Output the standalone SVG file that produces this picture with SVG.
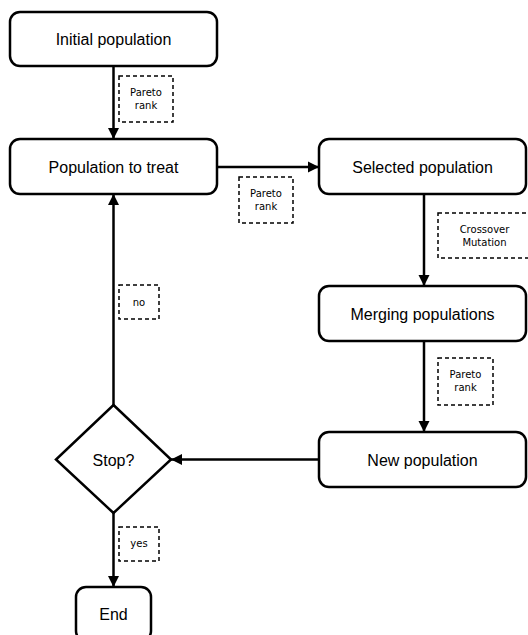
<svg xmlns="http://www.w3.org/2000/svg" width="528" height="635" viewBox="0 0 528 635">
<style>
.box{fill:#fff;stroke:#000;stroke-width:2.5}
.lbl{font-family:"Liberation Sans",Arial,sans-serif;font-size:16px;fill:#000;text-anchor:middle}
.note{fill:none;stroke:#000;stroke-width:1.5;stroke-dasharray:4 3}
.ntxt{font-family:"DejaVu Sans",sans-serif;font-size:10px;fill:#000;text-anchor:middle}
.edge{fill:none;stroke:#000;stroke-width:2.5}
</style>
<defs>
<marker id="arr" markerUnits="userSpaceOnUse" markerWidth="12" markerHeight="12" refX="11" refY="6" orient="auto">
<path d="M0,0.5 L11,6 L0,11.5 z" fill="#000"/>
</marker>
</defs>
<rect width="528" height="635" fill="#fff"/>
<g id="connectors">
<line class="edge" x1="113.5" y1="66" x2="113.5" y2="139" marker-end="url(#arr)"/>
<line class="edge" x1="217" y1="167" x2="319" y2="167" marker-end="url(#arr)"/>
<line class="edge" x1="424" y1="194" x2="424" y2="286" marker-end="url(#arr)"/>
<line class="edge" x1="424" y1="341" x2="424" y2="432" marker-end="url(#arr)"/>
<line class="edge" x1="319" y1="459.5" x2="171" y2="459.5" marker-end="url(#arr)"/>
<line class="edge" x1="113.5" y1="405" x2="113.5" y2="194" marker-end="url(#arr)"/>
<line class="edge" x1="113.5" y1="513" x2="113.5" y2="587" marker-end="url(#arr)"/>
</g>
<g id="note1"><rect class="note" x="119" y="76" width="54" height="46"/><text class="ntxt" x="146" y="96">Pareto</text><text class="ntxt" x="146" y="109">rank</text></g>
<g id="note2"><rect class="note" x="239" y="177" width="54" height="46"/><text class="ntxt" x="266" y="197">Pareto</text><text class="ntxt" x="266" y="210">rank</text></g>
<g id="note3"><rect class="note" x="438" y="213" width="93" height="45"/><text class="ntxt" x="484.5" y="233">Crossover</text><text class="ntxt" x="484.5" y="246">Mutation</text></g>
<g id="note4"><rect class="note" x="438" y="358" width="55" height="47"/><text class="ntxt" x="465.5" y="378">Pareto</text><text class="ntxt" x="465.5" y="391">rank</text></g>
<g id="note5"><rect class="note" x="119" y="285" width="40" height="34"/><text class="ntxt" x="139" y="305.5">no</text></g>
<g id="note6"><rect class="note" x="119" y="527" width="40" height="34"/><text class="ntxt" x="139" y="547">yes</text></g>
<g id="initial"><rect class="box" x="10" y="12" width="207" height="54" rx="10"/><text class="lbl" x="113.5" y="45">Initial population</text></g>
<g id="treat"><rect class="box" x="10" y="139" width="207" height="55" rx="10"/><text class="lbl" x="113.5" y="172.5">Population to treat</text></g>
<g id="selected"><rect class="box" x="319" y="139" width="207" height="55" rx="10"/><text class="lbl" x="422.5" y="172.5">Selected population</text></g>
<g id="merging"><rect class="box" x="319" y="286" width="207" height="55" rx="10"/><text class="lbl" x="422.5" y="319.5">Merging populations</text></g>
<g id="new"><rect class="box" x="319" y="432" width="207" height="55" rx="10"/><text class="lbl" x="422.5" y="465.5">New population</text></g>
<g id="stop"><polygon class="box" points="113.5,405 171,459.5 113.5,513 56,459.5"/><text class="lbl" x="113.5" y="465.5">Stop?</text></g>
<g id="end"><rect class="box" x="76" y="587" width="75" height="54" rx="10"/><text class="lbl" x="113.5" y="619.5">End</text></g>
</svg>
